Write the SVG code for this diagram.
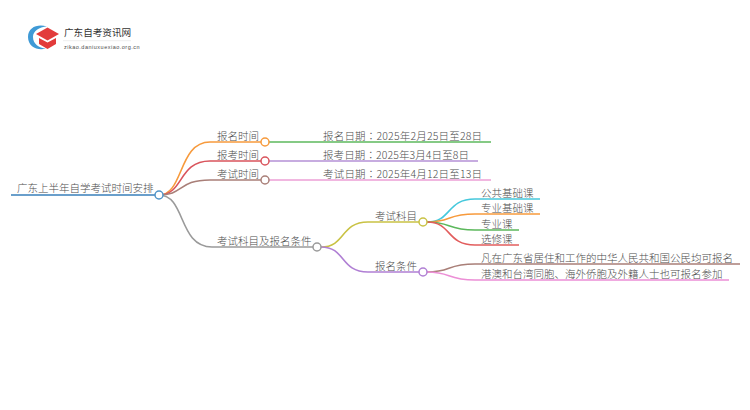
<svg xmlns="http://www.w3.org/2000/svg" width="750" height="410" viewBox="0 0 750 410">
<style>
text{font-family:"Noto Sans CJK SC","Liberation Sans",sans-serif;font-size:10.5px;font-weight:300;fill:#4d4d4d}
tspan{font-family:"Noto Sans CJK TC",sans-serif}
#connectors path{fill:none;stroke-width:1.6;stroke-linecap:butt}
circle.n{fill:#fff;stroke-width:1.5}
</style>
<rect width="750" height="410" fill="#fff"/>
<g id="logo">
<path d="M47 26.500C38 23.500 28 27 28 37C28 47 38 51 46 48.500C39 48 33 44 33 37C33 31 39 27 47 26.500Z" fill="#3f9ad6"/>
<path d="M36 34L47.500 27.500L59 34L47.500 40.500Z" fill="#e23b3b"/>
<path d="M39 38L47.500 42.500L56 38V44L47.500 49L39 44Z" fill="#e23b3b"/>
<text x="64" y="35.500" style="font-size:9.600px;font-weight:400;fill:#333">广东自考资讯网</text>
<path d="M63 40.700H131" stroke="#ddd" stroke-width="0.500"/>
<text x="64" y="48.500" style="font-size:5.500px;font-weight:400;font-family:'Liberation Sans',sans-serif;letter-spacing:0.500px">zikao.daniuxuexiao.org.cn</text>
</g>
<g id="connectors">
<path d="M11 195H155" stroke="#6a9fcb" style="stroke-width:2"/>
<path d="M159 195C184 195 178 142 210 142H261" stroke="#f79a3c"/>
<path d="M159 195C184 195 178 161 210 161H261" stroke="#d9545c"/>
<path d="M159 195C184 195 178 180 210 180H261" stroke="#a97f78"/>
<path d="M159 195C186 195 178 247 212 247H313" stroke="#9a9a9a"/>
<path d="M269 142H491" stroke="#5cb85c"/>
<path d="M269 161H478" stroke="#b491d6"/>
<path d="M269 180H491" stroke="#ec9fd6"/>
<path d="M321 247C346 247 340 222 368 222H419" stroke="#c9c244"/>
<path d="M321 247C346 247 340 272 368 272H419" stroke="#b07fd4"/>
<path d="M427 222C452 222 446 199 475 199H540" stroke="#45c8dc"/>
<path d="M427 222C452 222 446 214 475 214H540" stroke="#f79a3c"/>
<path d="M427 222C452 222 446 230 475 230H519" stroke="#5cb85c"/>
<path d="M427 222C452 222 446 245 475 245H519" stroke="#e25d5d"/>
<path d="M427 272C452 272 446 264 475 264H740" stroke="#a97f78"/>
<path d="M427 272C452 272 446 280 475 280H729" stroke="#ec8fd6"/>
</g>
<g id="root"><text x="17" y="192">广东上半年自学考试时间安排</text><circle class="n" cx="159" cy="195" r="4" stroke="#4f93c7"/></g>
<g id="n1"><text x="217" y="140">报名时间</text><circle class="n" cx="265" cy="142" r="4" stroke="#f79a3c"/></g>
<g id="n1a"><text x="323" y="140" textLength="159">报名日期<tspan>：</tspan>2025年2月25日至28日</text></g>
<g id="n2"><text x="217" y="159">报考时间</text><circle class="n" cx="265" cy="161" r="4" stroke="#d9545c"/></g>
<g id="n2a"><text x="323" y="159" textLength="146">报考日期<tspan>：</tspan>2025年3月4日至8日</text></g>
<g id="n3"><text x="217" y="178">考试时间</text><circle class="n" cx="265" cy="180" r="4" stroke="#a97f78"/></g>
<g id="n3a"><text x="323" y="178" textLength="159">考试日期<tspan>：</tspan>2025年4月12日至13日</text></g>
<g id="n4"><text x="217" y="245">考试科目及报名条件</text><circle class="n" cx="317" cy="247" r="4" stroke="#9a9a9a"/></g>
<g id="n5"><text x="375" y="220">考试科目</text><circle class="n" cx="423" cy="222" r="4" stroke="#c9c244"/></g>
<g id="n6"><text x="375" y="270">报名条件</text><circle class="n" cx="423" cy="272" r="4" stroke="#b07fd4"/></g>
<g id="l1"><text x="481" y="197">公共基础课</text></g>
<g id="l2"><text x="481" y="212">专业基础课</text></g>
<g id="l3"><text x="481" y="228">专业课</text></g>
<g id="l4"><text x="481" y="243">选修课</text></g>
<g id="l5"><text x="481" y="262">凡在广东省居住和工作的中华人民共和国公民均可报名</text></g>
<g id="l6"><text x="481" y="278">港澳和台湾同胞、海外侨胞及外籍人士也可报名参加</text></g>
</svg>
